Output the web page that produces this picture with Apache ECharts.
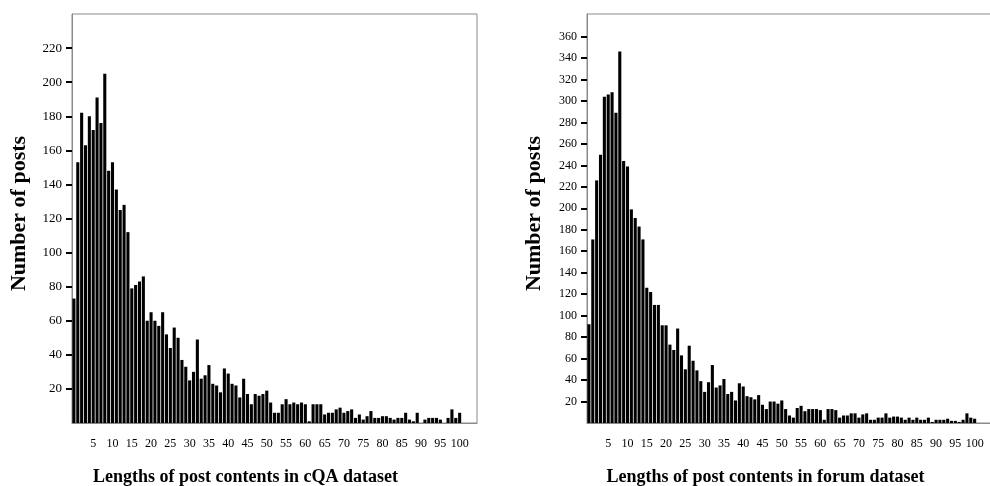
<!DOCTYPE html>
<html>
<head>
<meta charset="UTF-8">
<script src="https://cdn.jsdelivr.net/npm/echarts@6/dist/echarts.min.js"></script>
<style>
  html, body { margin: 0; padding: 0; background: #fff; }
  #main { width: 990px; height: 486px; }
</style>
</head>
<body>
<div id="main"></div>
<script type="text/javascript">
// post length buckets (0..104, last few are empty)
var lengths = [];
for (var i = 0; i <= 104; i++) lengths.push(String(i));

// cQA dataset counts
var cqaCounts = [
  73, 153, 182, 163, 180, 172, 191, 176, 205, 148,
  153, 137, 125, 128, 112, 79, 81, 83, 86, 60,
  65, 60, 57, 65, 52, 44, 56, 50, 37, 33,
  25, 30, 49, 26, 28, 34, 23, 22, 18, 32,
  29, 23, 22, 15, 26, 17, 11, 17, 16, 17,
  19, 12, 6, 6, 11, 14, 11, 12, 11, 12,
  11, 1, 11, 11, 11, 5, 6, 6, 8, 9,
  6, 7, 8, 3, 5, 2, 4, 7, 3, 3,
  4, 4, 3, 2, 3, 3, 6, 2, 1, 6,
  0, 2, 3, 3, 3, 2, 0, 3, 8, 3,
  6, null, null, null, null
];

// forum dataset counts
var forumCounts = [
  92, 171, 226, 250, 304, 306, 308, 289, 346, 244,
  239, 199, 191, 183, 171, 126, 122, 110, 110, 91,
  91, 73, 68, 88, 63, 50, 72, 58, 49, 39,
  29, 38, 54, 33, 35, 41, 27, 29, 21, 37,
  34, 25, 24, 22, 26, 17, 13, 20, 20, 18,
  21, 13, 7, 5, 14, 16, 11, 13, 13, 13,
  12, 3, 13, 13, 12, 5, 7, 7, 9, 9,
  5, 8, 9, 3, 3, 5, 5, 9, 5, 6,
  6, 5, 3, 5, 3, 5, 3, 3, 5, 1,
  3, 3, 3, 4, 2, 2, 1, 3, 9, 5,
  4, null, null, null, null
];

var cqaTicks = [20, 40, 60, 80, 100, 120, 140, 160, 180, 200, 220];
var forumTicks = [20, 40, 60, 80, 100, 120, 140, 160, 180, 200, 220, 240, 260, 280, 300, 320, 340, 360];

var serif = "'Liberation Serif', 'Times New Roman', serif";

// x label/tick every 5 from 5 to 100
function showX(idx) {
  return idx > 0 && idx <= 100 && idx % 5 === 0;
}

function xAxisOf(gridIndex, title, shift) {
  return {
    type: 'category',
    gridIndex: gridIndex,
    data: lengths,
    name: title,
    nameLocation: 'middle',
    nameGap: 45,
    nameTextStyle: {
      fontFamily: serif, fontWeight: 'bold', fontSize: 18, color: '#000',
      padding: [0, shift, 0, 0]
    },
    axisLine: { lineStyle: { color: '#8a8a8a', width: 1 } },
    axisTick: { alignWithLabel: true, interval: showX, length: 7, lineStyle: { color: '#000', width: 2 } },
    axisLabel: { interval: showX, margin: 15, fontFamily: serif, fontSize: 12, color: '#000' },
    splitLine: { show: false }
  };
}

function yAxisOf(gridIndex, max, ticks, size) {
  return {
    type: 'value',
    gridIndex: gridIndex,
    min: 0,
    max: max,
    name: 'Number of posts',
    nameLocation: 'middle',
    nameGap: 42,
    nameTextStyle: { fontFamily: serif, fontWeight: 'bold', fontSize: 22, color: '#000', padding: [0, 0, 0, 10] },
    axisLine: { show: true, lineStyle: { color: '#8a8a8a', width: 1 } },
    axisTick: { show: true, customValues: ticks, length: 6, lineStyle: { color: '#000', width: 2 } },
    axisLabel: { customValues: ticks, margin: 10, fontFamily: serif, fontSize: size, color: '#000' },
    splitLine: { show: false }
  };
}

var chart = echarts.init(document.getElementById('main'));
chart.setOption({
  animation: false,
  backgroundColor: '#fff',
  grid: [
    { left: 72, top: 14, width: 405, height: 409, outerBoundsMode: 'none', show: true, borderColor: '#8a8a8a', borderWidth: 1 },
    { left: 587, top: 14, width: 405, height: 409, outerBoundsMode: 'none', show: true, borderColor: '#8a8a8a', borderWidth: 1 }
  ],
  xAxis: [
    xAxisOf(0, 'Lengths of post contents in cQA dataset', 58),
    xAxisOf(1, 'Lengths of post contents in forum dataset', 48)
  ],
  yAxis: [
    yAxisOf(0, 240, cqaTicks, 13),
    yAxisOf(1, 381, forumTicks, 12)
  ],
  series: [
    {
      type: 'bar', xAxisIndex: 0, yAxisIndex: 0, data: cqaCounts,
      barCategoryGap: '20%', itemStyle: { color: '#000' }
    },
    {
      type: 'bar', xAxisIndex: 1, yAxisIndex: 1, data: forumCounts,
      barCategoryGap: '20%', itemStyle: { color: '#000' }
    }
  ]
});
</script>
</body>
</html>
